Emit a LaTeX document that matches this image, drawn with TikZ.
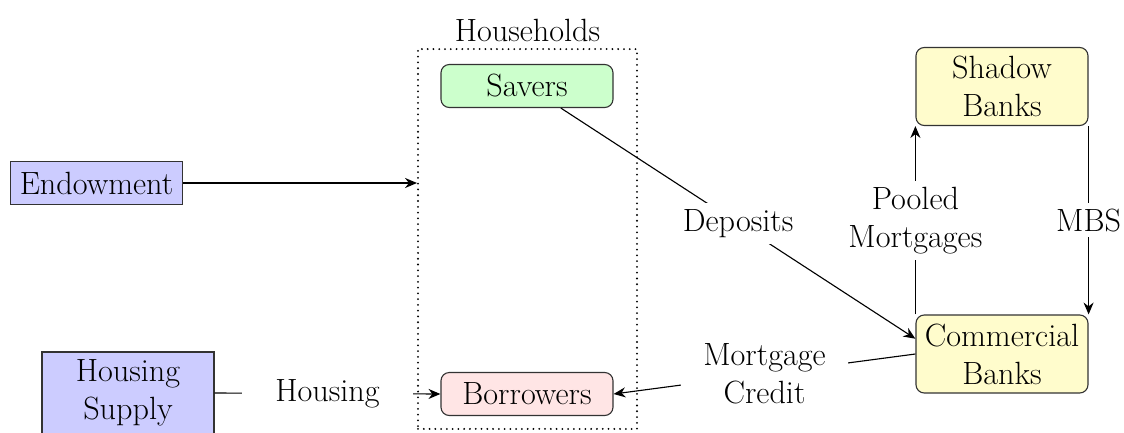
\documentclass[tikz,border=0pt]{standalone}
\usetikzlibrary{arrows.meta}
\begin{document}
\begin{tikzpicture}[x=0.537pt,y=-0.537pt, font=\fontsize{17.28}{20.4}\selectfont, line width=0.6pt,
  box/.style={draw=black!80, fill=blue!20, minimum width=92.4pt, minimum height=23.1pt, inner xsep=4pt, inner ysep=2pt, align=center},
  rbox/.style={draw=black!80, rounded corners=4.5pt, minimum width=92.4pt, minimum height=23.1pt, inner xsep=2pt, inner ysep=2pt, align=center},
  tallbox/.style={minimum height=41.9pt},
  flow/.style={-{Stealth[length=6.4pt,width=5.4pt]}},
  lab/.style={fill=white, align=center}]
\useasboundingbox (0,0) rectangle (1124,432);
\node[draw, line width=1.1pt, dash pattern=on 0pt off 3.1pt, line cap=round, minimum width=117.6pt, minimum height=204pt] (hh) at (527.5,239) {};
\node[above, inner sep=3pt] (hhlab) at (hh.north) {Households};
\node[box] (endow) at (96.5,183) {Endowment};
\node[box, minimum height=44pt] (hsupply) at (128,393) {Housing\\Supply};
\node[rbox, fill=green!20] (savers) at (527,86) {Savers};
\node[rbox, fill=red!10] (borrow) at (527,394) {Borrowers};
\node[rbox, tallbox, fill=yellow!20] (shadow) at (1002,86.5) {Shadow\\Banks};
\node[rbox, tallbox, fill=yellow!20] (comm) at (1002,354) {Commercial\\Banks};
\coordinate (hhin) at (hh.west |- endow.east);
\draw[flow] (endow.east) -- (hhin);
\draw[flow] (hsupply.east) -- node[lab, inner xsep=18pt] {Housing} (borrow.west);
\draw[flow] (savers) -- node[lab] {Deposits} (comm.170);
\draw[flow] (comm.west) -- node[lab, pos=0.5, inner xsep=12pt] {Mortgage\\Credit} (borrow.east);
\draw[flow] (comm.north west) -- node[lab] {Pooled\\Mortgages} (shadow.south west);
\draw[flow] (shadow.south east) -- node[lab, inner ysep=3pt] {MBS} (comm.north east);
\end{tikzpicture}
\end{document}
